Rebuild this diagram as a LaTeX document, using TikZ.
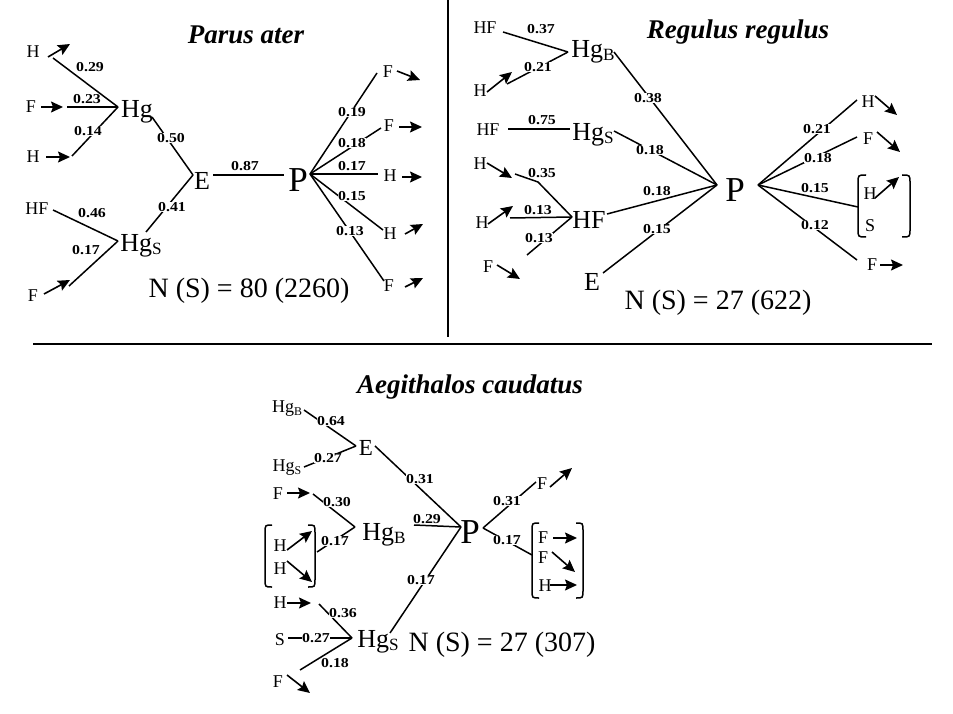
\documentclass[tikz,border=0pt]{standalone}
\usepackage{fontspec}
\setmainfont{Liberation Serif}
\usetikzlibrary{arrows.meta}
\newcommand{\subl}[1]{\raisebox{-0.12em}{\scalebox{0.66}{#1}}}
\newcommand{\lb}[1]{\scalebox{1.22}[1.05]{#1}}
\tikzset{
  lbl/.style={font=\fontsize{13}{13}\selectfont\bfseries, inner sep=0.6pt},
  wl/.style={lbl, fill=white},
  leaf/.style={font=\fontsize{18}{18}\selectfont, inner sep=0.5pt},
  hub/.style={font=\fontsize{26}{26}\selectfont, inner sep=0pt},
  hubs/.style={font=\fontsize{23}{23}\selectfont, inner sep=0pt},
  bigp/.style={font=\fontsize{35}{35}\selectfont, inner sep=0pt},
  ttl/.style={font=\fontsize{27}{27}\selectfont\bfseries\itshape, inner sep=0pt},
  ns/.style={font=\fontsize{28}{28}\selectfont, inner sep=0pt},
  ln/.style={line width=1.5pt},
  arr/.style={line width=1.6pt, -{Stealth[length=12pt,width=11pt,inset=2pt]}},
}
\begin{document}
\begin{tikzpicture}[x=1pt,y=-1pt]
\useasboundingbox (0,0) rectangle (953,714);
% dividers
\coordinate (vt) at (448,0); \coordinate (vb) at (448,337);
\coordinate (hl) at (33,344); \coordinate (hr) at (932,344);
\draw[ln] (vt) -- (vb);
\draw[ln] (hl) -- (hr);

% ================= Parus ater =================
\node[ttl] (t1) at (246,35) {Parus ater};
\node[hub] (pahg) at (137,112) {Hg};
\coordinate (pahgL) at (118,107); \coordinate (pahgR) at (152,117);
\node[hub] (pae) at (202,181) {E};
\coordinate (paeL) at (193,175); \coordinate (paeR) at (213,175);
\node[bigp] (pap) at (298,180) {P};
\coordinate (papL) at (284,175); \coordinate (papR) at (310,174);
\node[hub] (pahgs) at (141,246) {Hg\subl{S}};
\coordinate (pahgsL) at (118,241); \coordinate (pahgsR) at (146,232);

% leaves left
\node[leaf] (pah1) at (33,52) {H};
\coordinate (pah1s) at (48,57); \coordinate (pah1e) at (70,44); \coordinate (pah1l) at (53,58);
\draw[arr] (pah1s) -- (pah1e);
\draw[ln] (pah1l) -- (pahgL);
\node[lbl] (l029) at (90,67) {\lb{0.29}};

\node[leaf] (paf1) at (31,107) {F};
\coordinate (paf1s) at (41,107); \coordinate (paf1e) at (63,107); \coordinate (paf1l) at (67,107);
\draw[arr] (paf1s) -- (paf1e);
\draw[ln] (paf1l) -- (pahgL);
\node[lbl] (l023) at (87,99) {\lb{0.23}};

\node[leaf] (pah2) at (33,157) {H};
\coordinate (pah2s) at (46,157); \coordinate (pah2e) at (70,157); \coordinate (pah2l) at (72,156);
\draw[arr] (pah2s) -- (pah2e);
\draw[ln] (pah2l) -- (pahgL);
\node[wl] (l014) at (88,131) {\lb{0.14}};

\node[leaf] (pahf) at (37,209) {HF};
\coordinate (pahfl) at (53,210);
\draw[ln] (pahfl) -- (pahgsL);
\node[lbl] (l046) at (92,213) {\lb{0.46}};

\node[leaf] (paf2) at (33,296) {F};
\coordinate (paf2s) at (44,294); \coordinate (paf2e) at (70,280); \coordinate (paf2l) at (69,286);
\draw[arr] (paf2s) -- (paf2e);
\draw[ln] (paf2l) -- (pahgsL);
\node[lbl] (l017a) at (86,250) {\lb{0.17}};

% hubs
\draw[ln] (pahgR) -- (paeL);
\node[wl] (l050) at (171,138) {\lb{0.50}};
\draw[ln] (pahgsR) -- (paeL);
\node[wl] (l041) at (172,207) {\lb{0.41}};
\draw[ln] (paeR) -- (papL);
\node[lbl] (l087) at (245,166) {\lb{0.87}};

% right fan
\node[leaf] (paf3) at (388,72) {F};
\coordinate (paf3l) at (377,73); \coordinate (paf3s) at (397,71); \coordinate (paf3e) at (420,80);
\draw[ln] (papR) -- (paf3l);
\node[wl] (l019) at (352,112) {\lb{0.19}};
\draw[arr] (paf3s) -- (paf3e);

\node[leaf] (paf4) at (389,126) {F};
\coordinate (paf4l) at (381,128); \coordinate (paf4s) at (399,127); \coordinate (paf4e) at (422,127);
\draw[ln] (papR) -- (paf4l);
\node[wl] (l018) at (352,143) {\lb{0.18}};
\draw[arr] (paf4s) -- (paf4e);

\node[leaf] (pah3) at (390,176) {H};
\coordinate (pah3l) at (378,174); \coordinate (pah3s) at (402,177); \coordinate (pah3e) at (422,177);
\draw[ln] (papR) -- (pah3l);
\node[lbl] (l017b) at (352,166) {\lb{0.17}};
\draw[arr] (pah3s) -- (pah3e);

\node[leaf] (pah4) at (390,234) {H};
\coordinate (pah4l) at (383,230); \coordinate (pah4s) at (405,234); \coordinate (pah4e) at (423,224);
\draw[ln] (papR) -- (pah4l);
\node[wl] (l015) at (352,196) {\lb{0.15}};
\draw[arr] (pah4s) -- (pah4e);

\node[leaf] (paf5) at (389,286) {F};
\coordinate (paf5l) at (384,281); \coordinate (paf5s) at (405,287); \coordinate (paf5e) at (423,278);
\draw[ln] (papR) -- (paf5l);
\node[wl] (l013) at (350,231) {\lb{0.13}};
\draw[arr] (paf5s) -- (paf5e);

\node[ns] (pans) at (249,291) {N (S) = 80 (2260)};

% ================= Regulus regulus =================
\node[ttl] (t2) at (738,32) {Regulus regulus};
\node[hub] (rhgb) at (593,52) {Hg\subl{B}};
\coordinate (rhgbL) at (568,52); \coordinate (rhgbR) at (614,52);
\node[hub] (rhgs) at (593,135) {Hg\subl{S}};
\coordinate (rhgsL) at (570,129); \coordinate (rhgsR) at (614,131);
\node[hub] (rhf) at (589,220) {HF};
\coordinate (rhfL) at (572,217); \coordinate (rhfR) at (607,214);
\node[hub] (re) at (592,282) {E};
\coordinate (reR) at (603,273);
\node[bigp] (rp) at (735,190) {P};
\coordinate (rpL) at (717,185); \coordinate (rpR) at (758,185);

\node[leaf] (rhf1) at (485,28) {HF};
\coordinate (rhf1l) at (503,32);
\draw[ln] (rhf1l) -- (rhgbL);
\node[lbl] (r037) at (541,29) {\lb{0.37}};

\node[leaf] (rh1) at (480,91) {H};
\coordinate (rh1s) at (487,92); \coordinate (rh1e) at (512,72); \coordinate (rh1l) at (507,84);
\draw[arr] (rh1s) -- (rh1e);
\draw[ln] (rh1l) -- (rhgbL);
\node[wl] (r021) at (538,67) {\lb{0.21}};

\draw[ln] (rhgbR) -- (rpL);
\node[wl] (r038) at (648,98) {\lb{0.38}};

\node[leaf] (rhf2) at (488,130) {HF};
\coordinate (rhf2l) at (508,129);
\draw[ln] (rhf2l) -- (rhgsL);
\node[lbl] (r075) at (542,120) {\lb{0.75}};

\draw[ln] (rhgsR) -- (rpL);
\node[wl] (r018a) at (650,150) {\lb{0.18}};

\node[leaf] (rh2) at (480,164) {H};
\coordinate (rh2s) at (487,163); \coordinate (rh2e) at (512,178);
\coordinate (rh2l) at (515,174); \coordinate (rh2m) at (538,182);
\draw[arr] (rh2s) -- (rh2e);
\draw[ln] (rh2l) -- (rh2m) -- (rhfL);
\node[wl] (r035) at (542,173) {\lb{0.35}};

\node[leaf] (rh3) at (482,223) {H};
\coordinate (rh3s) at (488,224); \coordinate (rh3e) at (513,206); \coordinate (rh3l) at (510,218);
\draw[arr] (rh3s) -- (rh3e);
\draw[ln] (rh3l) -- (rhfL);
\node[lbl] (r013a) at (538,210) {\lb{0.13}};

\node[leaf] (rf1) at (488,267) {F};
\coordinate (rf1s) at (497,265); \coordinate (rf1e) at (520,279); \coordinate (rf1l) at (527,255);
\draw[arr] (rf1s) -- (rf1e);
\draw[ln] (rf1l) -- (rhfL);
\node[wl] (r013b) at (539,238) {\lb{0.13}};

\draw[ln] (rhfR) -- (rpL);
\node[lbl] (r018b) at (657,191) {\lb{0.18}};
\draw[ln] (reR) -- (rpL);
\node[wl] (r015a) at (657,229) {\lb{0.15}};

% right fan
\node[leaf] (rh4) at (868,102) {H};
\coordinate (rh4l) at (857,100); \coordinate (rh4s) at (875,96); \coordinate (rh4e) at (897,115);
\draw[ln] (rpR) -- (rh4l);
\node[wl] (r021b) at (817,129) {\lb{0.21}};
\draw[arr] (rh4s) -- (rh4e);

\node[leaf] (rf2) at (868,139) {F};
\coordinate (rf2l) at (857,137); \coordinate (rf2s) at (877,132); \coordinate (rf2e) at (900,152);
\draw[ln] (rpR) -- (rf2l);
\node[wl] (r018c) at (818,158) {\lb{0.18}};
\draw[arr] (rf2s) -- (rf2e);

\node[leaf] (rh5) at (870,194) {H};
\node[leaf] (rs1) at (870,226) {S};
\coordinate (rbrk) at (858,207);
\draw[ln] (rpR) -- (rbrk);
\node[lbl] (r015b) at (815,188) {\lb{0.15}};
\coordinate (rh5s) at (875,198); \coordinate (rh5e) at (899,177);
\draw[arr] (rh5s) -- (rh5e);
\draw[ln] (866,175) .. controls (858,175) .. (858,183) -- (858,229) .. controls (858,237) .. (866,237);
\draw[ln] (902,175) .. controls (910,175) .. (910,183) -- (910,229) .. controls (910,237) .. (902,237);

\node[leaf] (rf3) at (872,265) {F};
\coordinate (rf3l) at (857,260); \coordinate (rf3s) at (880,265); \coordinate (rf3e) at (903,265);
\draw[ln] (rpR) -- (rf3l);
\node[wl] (r012) at (815,225) {\lb{0.12}};
\draw[arr] (rf3s) -- (rf3e);

\node[ns] (rns) at (718,303) {N (S) = 27 (622)};

% ================= Aegithalos caudatus =================
\node[ttl] (t3) at (470,387) {Aegithalos caudatus};
\node[leaf] (ahgb1) at (287,409) {Hg\subl{B}};
\coordinate (ahgb1l) at (304,410);
\node[hubs] (ae) at (366,448) {E};
\coordinate (aeL) at (356,446); \coordinate (aeR) at (375,446);
\node[leaf] (ahgs1) at (287,468) {Hg\subl{S}};
\coordinate (ahgs1l) at (304,467);
\draw[ln] (ahgb1l) -- (aeL);
\node[wl] (a064) at (331,421) {\lb{0.64}};
\draw[ln] (ahgs1l) -- (aeL);
\node[wl] (a027a) at (328,458) {\lb{0.27}};

\node[bigp] (ap) at (470,532) {P};
\coordinate (apL) at (461,527); \coordinate (apR) at (483,528);
\draw[ln] (aeR) -- (apL);
\node[wl] (a031a) at (420,479) {\lb{0.31}};

\node[hub] (ahgb) at (384,535) {Hg\subl{B}};
\coordinate (ahgbL) at (355,527); \coordinate (ahgbR) at (414,525);
\draw[ln] (ahgbR) -- (apL);
\node[lbl] (a029) at (427,519) {\lb{0.29}};

\node[leaf] (af1) at (278,494) {F};
\coordinate (af1s) at (287,493); \coordinate (af1e) at (310,493); \coordinate (af1l) at (313,494);
\draw[arr] (af1s) -- (af1e);
\draw[ln] (af1l) -- (ahgbL);
\node[wl] (a030) at (337,502) {\lb{0.30}};

\node[leaf] (ah1) at (280,546) {H};
\node[leaf] (ah2) at (280,569) {H};
\coordinate (ah1s) at (287,550); \coordinate (ah1e) at (312,531);
\coordinate (ah2s) at (287,561); \coordinate (ah2e) at (312,582);
\draw[arr] (ah1s) -- (ah1e);
\draw[arr] (ah2s) -- (ah2e);
\draw[ln] (272,525) .. controls (265,525) .. (265,533) -- (265,579) .. controls (265,587) .. (272,587);
\draw[ln] (308,525) .. controls (315,525) .. (315,533) -- (315,579) .. controls (315,587) .. (308,587);
\coordinate (abrk1) at (317,552);
\draw[ln] (abrk1) -- (ahgbL);
\node[wl] (a017a) at (335,541) {\lb{0.17}};

\node[hub] (ahgs) at (378,642) {Hg\subl{S}};
\coordinate (ahgsL) at (352,638); \coordinate (ahgsR) at (390,633);
\draw[ln] (ahgsR) -- (apL);
\node[wl] (a017b) at (421,580) {\lb{0.17}};

\node[leaf] (ah3) at (280,603) {H};
\coordinate (ah3s) at (287,603); \coordinate (ah3e) at (311,603); \coordinate (ah3l) at (319,604);
\draw[arr] (ah3s) -- (ah3e);
\draw[ln] (ah3l) -- (ahgsL);
\node[wl] (a036) at (343,613) {\lb{0.36}};

\node[leaf] (as1) at (280,640) {S};
\coordinate (as1l) at (288,638);
\draw[ln] (as1l) -- (ahgsL);
\node[wl] (a027b) at (316,638) {\lb{0.27}};

\node[leaf] (af2) at (278,682) {F};
\coordinate (af2s) at (287,675); \coordinate (af2e) at (310,693); \coordinate (af2l) at (300,670);
\draw[arr] (af2s) -- (af2e);
\draw[ln] (af2l) -- (ahgsL);
\node[lbl] (a018) at (335,663) {\lb{0.18}};

% right
\node[leaf] (af3) at (542,484) {F};
\coordinate (af3l) at (536,482); \coordinate (af3s) at (550,487); \coordinate (af3e) at (572,468);
\draw[ln] (apR) -- (af3l);
\node[wl] (a031b) at (507,501) {\lb{0.31}};
\draw[arr] (af3s) -- (af3e);

\node[leaf] (af4) at (543,538) {F};
\node[leaf] (af5) at (543,558) {F};
\node[leaf] (ah4) at (545,586) {H};
\coordinate (af4s) at (553,538); \coordinate (af4e) at (577,538);
\coordinate (af5s) at (552,552); \coordinate (af5e) at (575,572);
\coordinate (ah4s) at (550,585); \coordinate (ah4e) at (577,585);
\draw[arr] (af4s) -- (af4e);
\draw[arr] (af5s) -- (af5e);
\draw[arr] (ah4s) -- (ah4e);
\draw[ln] (539,523) .. controls (532,523) .. (532,531) -- (532,590) .. controls (532,598) .. (539,598);
\draw[ln] (576,523) .. controls (583,523) .. (583,531) -- (583,590) .. controls (583,598) .. (576,598);
\coordinate (abrk2) at (532,555);
\draw[ln] (apR) -- (abrk2);
\node[wl] (a017c) at (507,540) {\lb{0.17}};

\node[ns] (ans) at (502,645) {N (S) = 27 (307)};
\end{tikzpicture}
\end{document}
